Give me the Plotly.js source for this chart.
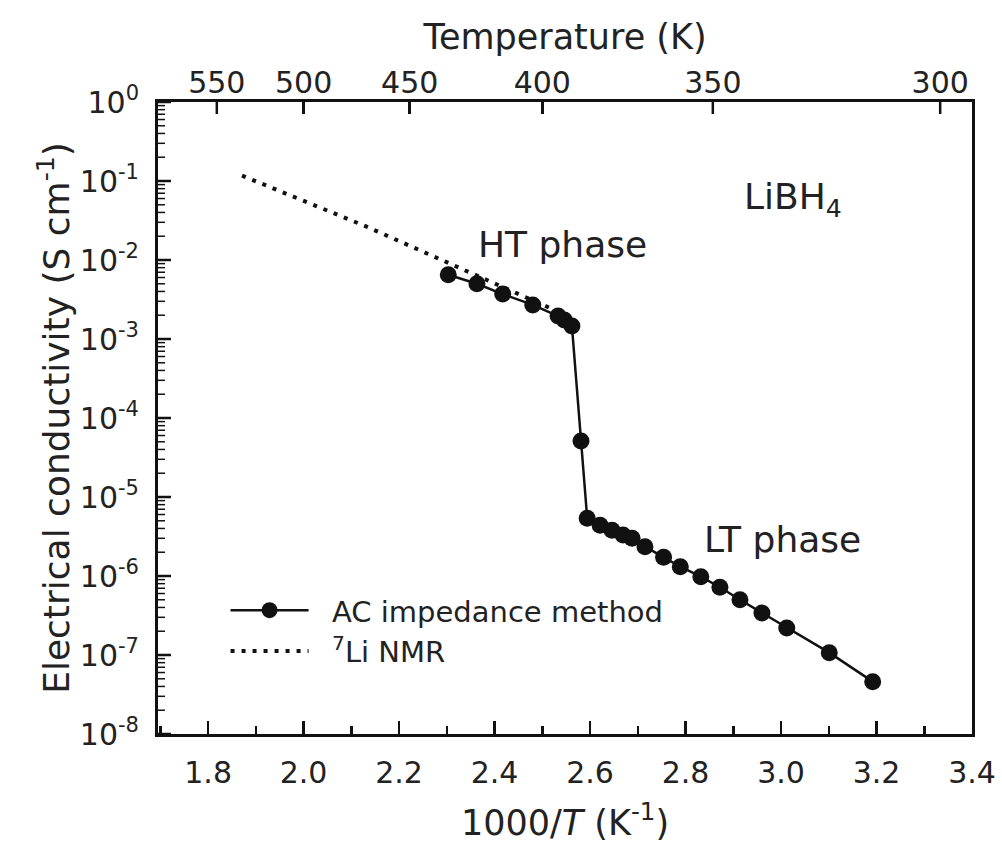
<!DOCTYPE html>
<html>
<head>
<meta charset="utf-8">
<script src="https://cdn.plot.ly/plotly-3.0.1.min.js"></script>
<style>html,body{margin:0;padding:0;background:#fff;}#chart{width:1002px;height:848px;}</style>
</head>
<body>
<div id="chart"></div>
<script>
// AC impedance method: 1000/T (K^-1) and conductivity (S cm^-1)
const acInvT = [2.303, 2.363, 2.417, 2.480, 2.533, 2.546, 2.562, 2.581, 2.594, 2.621, 2.646, 2.669, 2.688,
                2.715, 2.754, 2.789, 2.832, 2.872, 2.914, 2.960, 3.012, 3.101, 3.192];
const acSigma = [6.5e-3, 5.0e-3, 3.7e-3, 2.7e-3, 1.95e-3, 1.74e-3, 1.46e-3, 5.1e-5, 5.4e-6, 4.4e-6, 3.8e-6, 3.3e-6, 3.0e-6,
                 2.35e-6, 1.73e-6, 1.31e-6, 9.8e-7, 7.2e-7, 5.0e-7, 3.4e-7, 2.2e-7, 1.07e-7, 4.6e-8];
// 7Li NMR estimate
const nmrInvT = [1.871, 2.132, 2.550];
const nmrSigma = [1.17e-1, 2.64e-2, 2.0e-3];
// Tick labels
const topTemps = [550, 500, 450, 400, 350, 300];
const yTickVals = [1e-8, 1e-7, 1e-6, 1e-5, 1e-4, 1e-3, 1e-2, 1e-1, 1];
const yTickText = ['10<sup>-8</sup>','10<sup>-7</sup>','10<sup>-6</sup>','10<sup>-5</sup>','10<sup>-4</sup>',
                   '10<sup>-3</sup>','10<sup>-2</sup>','10<sup>-1</sup>','10<sup>0</sup>'];
const minorDigits = [2, 3, 4, 5, 6, 7, 8, 9];

const FONT = 'DejaVu Sans, Liberation Sans, Arial, sans-serif';
const INK = '#111';
const TXT = '#222';
const xRange = [1.695, 3.4];
const yLogRange = [-8, 0];
const M = {l: 158, r: 30, t: 102, b: 114};
const W = 1002, H = 848;
const plotW = W - M.l - M.r, plotH = H - M.t - M.b;

const yMinorVals = [];
yTickVals.slice(0, -1).forEach(d => minorDigits.forEach(m => yMinorVals.push(d * m)));

// tick marks as shapes, placed through the axes' own scales
const yFrac = v => (Math.log10(v) - yLogRange[0]) / (yLogRange[1] - yLogRange[0]);
const tickShapes = [];
yTickVals.forEach(v => tickShapes.push({type: 'line', layer: 'above', xref: 'paper', yref: 'paper',
  x0: 0, x1: 13 / plotW, y0: yFrac(v), y1: yFrac(v), line: {color: INK, width: 2.5}}));
yMinorVals.forEach(v => tickShapes.push({type: 'line', layer: 'above', xref: 'paper', yref: 'paper',
  x0: 0, x1: 7 / plotW, y0: yFrac(v), y1: yFrac(v), line: {color: INK, width: 1.5}}));
topTemps.forEach(t => tickShapes.push({type: 'line', layer: 'above', xref: 'x', yref: 'paper',
  x0: 1000 / t, x1: 1000 / t, y0: 1, y1: 1 - 12 / plotH, line: {color: INK, width: 2.5}}));

const traces = [
  {
    x: acInvT, y: acSigma, type: 'scatter', mode: 'lines+markers',
    name: '\u00a0\u00a0AC impedance method',
    line: {color: INK, width: 2.5},
    marker: {color: INK, size: 17}
  },
  {
    x: nmrInvT, y: nmrSigma, type: 'scatter', mode: 'lines',
    name: '\u00a0\u00a0<sup>7</sup>Li NMR',
    line: {color: INK, width: 4, dash: '4px,7px'}
  },
  {
    x: [xRange[0]], y: [1e-9], xaxis: 'x2', yaxis: 'y', type: 'scatter', mode: 'markers',
    marker: {opacity: 0}, showlegend: false, hoverinfo: 'skip'
  }
];

const layout = {
  width: W, height: H,
  margin: M,
  paper_bgcolor: '#fff', plot_bgcolor: '#fff',
  font: {family: FONT, color: TXT, size: 30},
  showlegend: true,
  legend: {
    x: 0.083, y: 0.236, xanchor: 'left', yanchor: 'top',
    bgcolor: 'rgba(0,0,0,0)', font: {size: 29, family: FONT, color: TXT},
    itemwidth: 78, tracegroupgap: 0
  },
  xaxis: {
    range: xRange, tick0: 1.8, dtick: 0.2, tickformat: '.1f',
    ticks: 'inside', ticklen: 13, tickwidth: 2.5, tickcolor: INK,
    minor: {dtick: 0.1, tick0: 1.8, ticks: 'inside', ticklen: 8, tickwidth: 2.5, tickcolor: INK, showgrid: false},
    showline: true, linewidth: 3, linecolor: INK, mirror: false,
    showgrid: false, zeroline: false,
    tickfont: {size: 30},
    ticklabelstandoff: 10,
    title: {text: '1000/<i>T</i> (K<sup>-1</sup>)', font: {size: 35}, standoff: 22}
  },
  xaxis2: {
    overlaying: 'x', side: 'top', anchor: 'y', range: xRange,
    tickmode: 'array', tickvals: topTemps.map(t => 1000 / t), ticktext: topTemps.map(String),
    ticks: 'inside', ticklen: 12, tickwidth: 2.5, tickcolor: INK,
    showline: true, linewidth: 3, linecolor: INK,
    showgrid: false, zeroline: false,
    tickfont: {size: 30},
    ticklabelstandoff: -6,
    title: {text: 'Temperature (K)', font: {size: 35}, standoff: 5}
  },
  yaxis: {
    type: 'log', range: yLogRange,
    tickmode: 'array', tickvals: yTickVals, ticktext: yTickText,
    ticks: 'inside', ticklen: 13, tickwidth: 2.5, tickcolor: INK,
    showline: true, linewidth: 3, linecolor: INK, mirror: true,
    showgrid: false, zeroline: false,
    tickfont: {size: 30},
    ticklabelstandoff: 10,
    title: {text: 'Electrical conductivity (S cm<sup>-1</sup>)', font: {size: 36}, standoff: 0}
  },
  shapes: tickShapes,
  annotations: [
    {text: 'LiBH<sub>4</sub>', xref: 'paper', yref: 'paper', x: 0.780, y: 0.845, showarrow: false,
     xanchor: 'center', yanchor: 'middle', font: {size: 36, family: FONT, color: TXT}},
    {text: 'HT phase', xref: 'paper', yref: 'paper', x: 0.4975, y: 0.775, showarrow: false,
     xanchor: 'center', yanchor: 'middle', font: {size: 36, family: FONT, color: TXT}},
    {text: 'LT phase', xref: 'paper', yref: 'paper', x: 0.767, y: 0.307, showarrow: false,
     xanchor: 'center', yanchor: 'middle', font: {size: 36, family: FONT, color: TXT}}
  ]
};

Plotly.newPlot('chart', traces, layout, {displayModeBar: false, staticPlot: true});
</script>
</body>
</html>
